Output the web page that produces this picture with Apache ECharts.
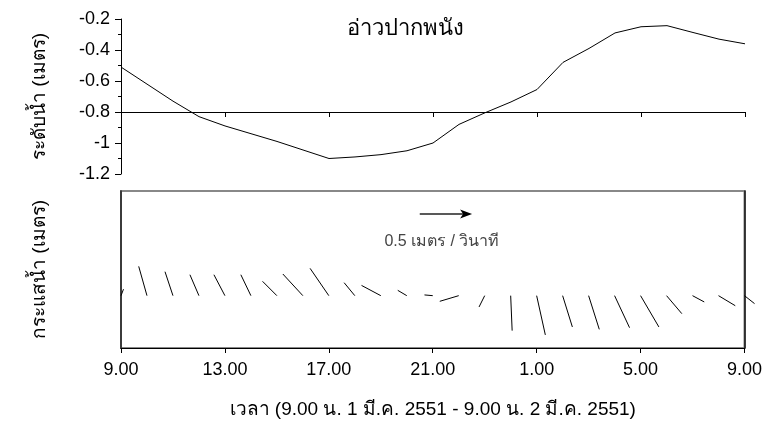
<!DOCTYPE html>
<html>
<head>
<meta charset="utf-8">
<script src="https://cdn.jsdelivr.net/npm/echarts@6/dist/echarts.min.js"></script>
<style>
  html, body { margin: 0; padding: 0; background: #fff; }
  #chart { width: 765px; height: 423px; }
</style>
</head>
<body>
<div id="chart"></div>
<script>
// hours since 9.00 on 1 Mar 2551
var hours = [0, 1, 2, 3, 4, 5, 6, 7, 8, 9, 10, 11, 12, 13, 14, 15, 16, 17, 18, 19, 20, 21, 22, 23, 24];
var tickLabels = ['9.00', '13.00', '17.00', '21.00', '1.00', '5.00', '9.00'];

// water level (m)
var level = [-0.51, -0.62, -0.73, -0.83, -0.89, -0.94, -0.99, -1.045, -1.1, -1.09, -1.075, -1.05,
  -1.0, -0.88, -0.805, -0.735, -0.655, -0.48, -0.39, -0.29, -0.25, -0.243, -0.287, -0.33, -0.36];

// current components (m/s), east and north
var curU = [0.024, -0.079, -0.076, -0.086, -0.105, -0.096, -0.137, -0.191, -0.179, -0.102, -0.184, -0.086,
  -0.079, -0.181, -0.054, 0.014, 0.083, 0.093, 0.102, 0.143, 0.175, 0.146, 0.112, 0.16, 0.096];
var curV = [0.062, 0.28, 0.229, 0.2, 0.2, 0.2, 0.137, 0.207, 0.261, 0.124, 0.098, 0.051,
  0.007, -0.054, -0.108, -0.334, -0.375, -0.299, -0.322, -0.306, -0.299, -0.172, -0.06, -0.096, -0.076];

var refSpeed = 0.5;

var font = 'Liberation Sans, Arial, sans-serif';
var chart = echarts.init(document.getElementById('chart'), null, { renderer: 'canvas' });

function tickFmt(v) { return tickLabels[Math.round(v / 4)]; }

chart.setOption({
  animation: false,
  textStyle: { fontFamily: font, color: '#000' },
  title: {
    text: 'อ่าวปากพนัง', left: 342, top: 13,
    textStyle: { fontSize: 22, fontWeight: 'normal', color: '#000', fontFamily: font }
  },
  grid: [
    { left: 121, right: 20, top: 19, height: 155 },
    { left: 121, right: 20, top: 191, height: 157, show: true, borderColor: '#888', borderWidth: 2 }
  ],
  xAxis: [
    {
      gridIndex: 0, type: 'value', min: 0, max: 24, interval: 4, position: 'bottom', offset: -62,
      axisLine: { onZero: false, lineStyle: { color: '#000', width: 1 } },
      axisTick: { length: 5, lineStyle: { color: '#000' } },
      axisLabel: { show: false }, splitLine: { show: false }
    },
    {
      gridIndex: 1, type: 'value', min: 0, max: 24, interval: 4,
      axisLine: { onZero: false, lineStyle: { color: '#000', width: 1 } },
      axisTick: { length: 5, lineStyle: { color: '#000' } },
      axisLabel: { fontSize: 18, color: '#000', margin: 13, formatter: tickFmt },
      splitLine: { show: false },
      name: 'เวลา (9.00 น. 1 มี.ค. 2551 - 9.00 น. 2 มี.ค. 2551)', nameLocation: 'middle', nameGap: 52,
      nameTextStyle: { fontSize: 19, color: '#000' }
    }
  ],
  yAxis: [
    {
      gridIndex: 0, type: 'value', min: -1.2, max: -0.2, interval: 0.2,
      axisLine: { show: true, lineStyle: { color: '#000', width: 1 } },
      axisTick: { show: true, length: 6, lineStyle: { color: '#000' } },
      minorTick: { show: true, splitNumber: 2, length: 3, lineStyle: { color: '#000' } },
      axisLabel: { fontSize: 18, color: '#000', margin: 11 },
      splitLine: { show: false },
      name: 'ระดับน้ำ (เมตร)', nameLocation: 'middle', nameGap: 72,
      nameTextStyle: { fontSize: 19, color: '#000' }
    },
    {
      gridIndex: 1, type: 'value', min: -0.5, max: 1.0,
      axisLine: { show: true, onZero: false, lineStyle: { color: '#222', width: 1.5 } },
      axisTick: { show: false }, axisLabel: { show: false }, splitLine: { show: false },
      name: 'กระแสน้ำ (เมตร)', nameLocation: 'middle', nameGap: 72,
      nameTextStyle: { fontSize: 19, color: '#000' }
    },
    {
      gridIndex: 1, type: 'value', min: -0.5, max: 1.0, position: 'right',
      axisLine: { show: true, onZero: false, lineStyle: { color: '#111', width: 1.5 } },
      axisTick: { show: false }, axisLabel: { show: false }, splitLine: { show: false }
    }
  ],
  series: [
    {
      type: 'line', xAxisIndex: 0, yAxisIndex: 0, symbol: 'none',
      lineStyle: { color: '#000', width: 1 },
      data: hours.map(function(h, i) { return [h, level[i]]; })
    },
    {
      // current sticks, drawn from the baseline with equal px per m/s on both directions
      type: 'custom', xAxisIndex: 1, yAxisIndex: 1, clip: false,
      data: hours.map(function(h, i) { return [h, curU[i], curV[i]]; }),
      renderItem: function(params, api) {
        var o = api.coord([api.value(0), 0]);
        var k = api.size([0, 1])[1];
        return {
          type: 'line',
          shape: { x1: o[0], y1: o[1], x2: o[0] + api.value(1) * k, y2: o[1] - api.value(2) * k },
          style: { stroke: '#000', lineWidth: 1 }
        };
      }
    },
    {
      // scale arrow
      type: 'custom', xAxisIndex: 1, yAxisIndex: 1, clip: false,
      data: [[refSpeed]],
      renderItem: function(params, api) {
        var o = api.coord([11.5, 0.78]);
        var k = api.size([0, 1])[1];
        var len = api.value(0) * k;
        var tip = o[0] + len;
        return {
          type: 'group',
          children: [
            { type: 'line', shape: { x1: o[0], y1: o[1], x2: tip - 8, y2: o[1] }, style: { stroke: '#222', lineWidth: 1.5 } },
            { type: 'polygon', shape: { points: [[tip, o[1]], [tip - 12, o[1] - 4.5], [tip - 9, o[1]], [tip - 12, o[1] + 4.5]] }, style: { fill: '#000' } },
            { type: 'text', x: o[0] + len / 2 - 4, y: o[1] + 28, style: { text: api.value(0) + ' เมตร / วินาที', fontSize: 16, fill: '#444', fontFamily: font, align: 'center', verticalAlign: 'middle' } }
          ]
        };
      }
    }
  ]
});

window.addEventListener('resize', function() { chart.resize(); });
</script>
</body>
</html>
